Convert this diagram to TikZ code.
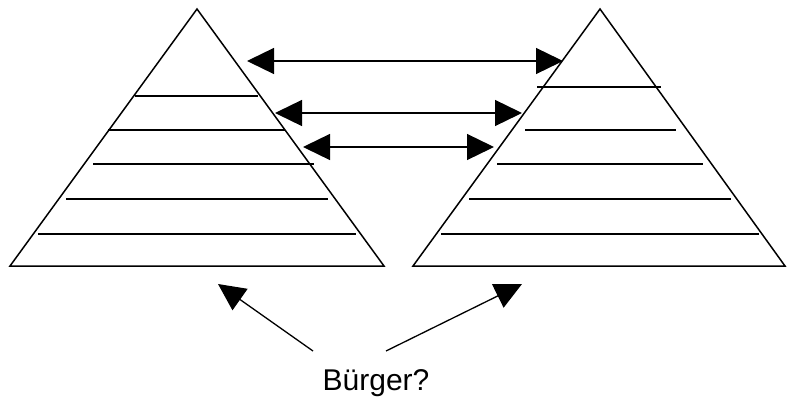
\documentclass[tikz,border=0pt]{standalone}
\usepackage{fontspec}
\setmainfont{Liberation Sans}
\usetikzlibrary{arrows.meta}
\begin{document}
\begin{tikzpicture}[x=1pt,y=-1pt,
  edge/.style={line width=1.5pt,line join=miter},
  tier/.style={line width=1.5pt},
  link/.style={line width=1.3pt,{Triangle[length=27pt,width=26pt]}-{Triangle[length=27pt,width=26pt]}},
  pointer/.style={line width=1.3pt,-{Triangle[length=27pt,width=26pt]}},
  lbl/.style={font=\fontsize{30}{36}\selectfont,inner sep=0pt,anchor=base}]
\useasboundingbox (0,0) rectangle (787,399);
% left pyramid
\coordinate (LA) at (197,9);
\coordinate (LL) at (10,266);
\coordinate (LR) at (384,266);
\draw[edge] (LA) -- (LL) -- (LR) -- cycle;
\draw[tier] (135,96) -- (258,96);
\draw[tier] (108,130) -- (285,130);
\draw[tier] (93,164) -- (314,164);
\draw[tier] (66,199) -- (328,199);
\draw[tier] (38,234) -- (356,234);
% right pyramid
\coordinate (RA) at (600,9);
\coordinate (RL) at (413,266);
\coordinate (RR) at (785,266);
\draw[edge] (RA) -- (RL) -- (RR) -- cycle;
\draw[line width=2.3pt] (537,87) -- (633,87);
\draw[tier] (633,87) -- (661,87);
\draw[tier] (525,130) -- (676,130);
\draw[tier] (497,164) -- (703,164);
\draw[tier] (469,199) -- (731,199);
\draw[tier] (441,234) -- (759,234);
% horizontal links
\coordinate (a1) at (247,61);  \coordinate (b1) at (563,61);
\coordinate (a2) at (275,113); \coordinate (b2) at (522,113);
\coordinate (a3) at (303,147); \coordinate (b3) at (494,147);
\draw[link] (a1) -- (b1);
\draw[link] (a2) -- (b2);
\draw[link] (a3) -- (b3);
% label and pointers
\node[lbl] (burger) at (376,390) {Bürger?};
\coordinate (s1) at (313,351); \coordinate (t1) at (218,284);
\coordinate (s2) at (386,351); \coordinate (t2) at (522,284);
\draw[pointer] (s1) -- (t1);
\draw[pointer] (s2) -- (t2);
\end{tikzpicture}
\end{document}
